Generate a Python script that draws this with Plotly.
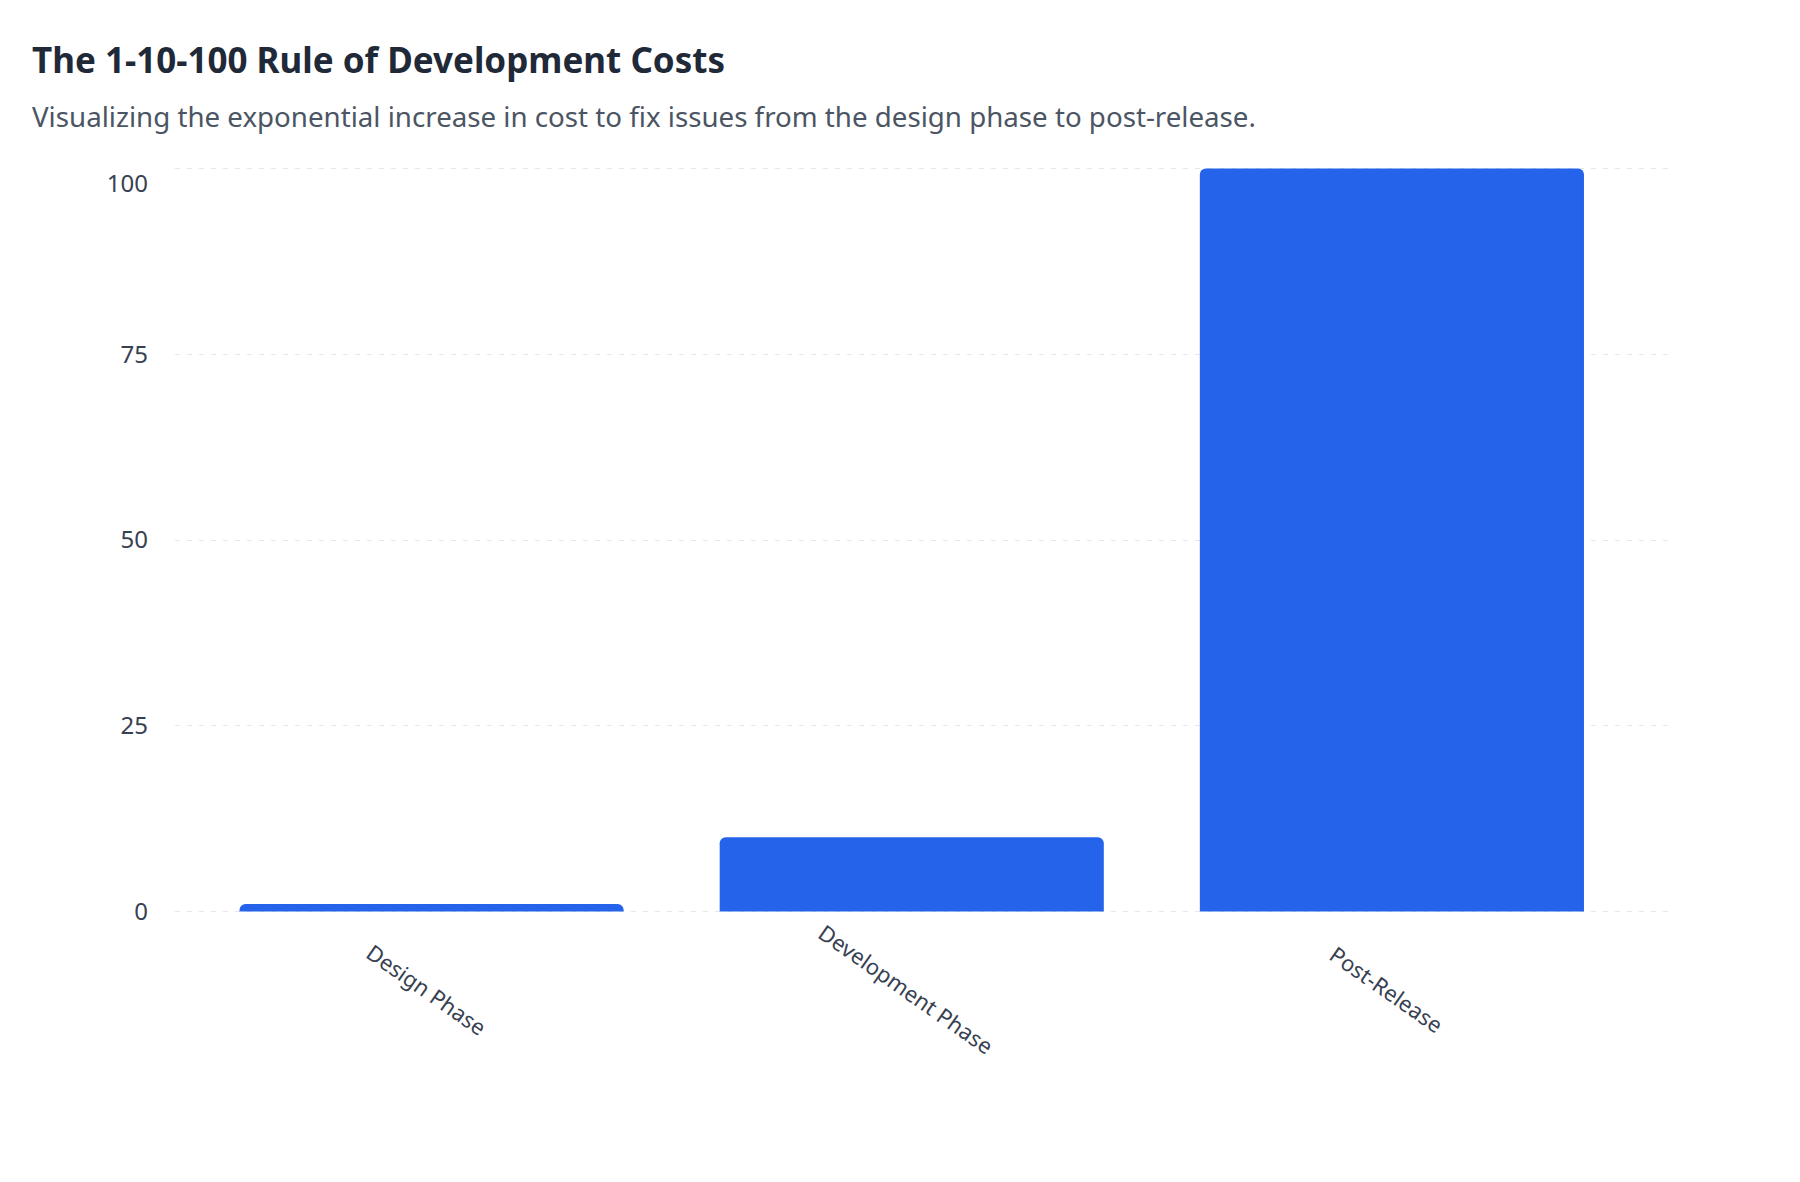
import plotly.graph_objects as go

categories = ["Design Phase", "Development Phase", "Post-Release"]
costs = [1, 10, 100]
y_ticks = [0, 25, 50, 75, 100]
y_tick_text = ["0", "25", "50", "75", "<br>100"]

title_text = "The 1-10-100 Rule of Development Costs"
subtitle_text = "Visualizing the exponential increase in cost to fix issues from the design phase to post-release."

FONT = "Noto Sans"
W, H = 1800, 1182
M_L, M_R, M_T, M_B = 175, 130, 167, 269
plot_w = W - M_L - M_R
plot_h = H - M_T - M_B

fig = go.Figure()
fig.add_trace(go.Bar(
    x=categories,
    y=costs,
    width=0.8,
    marker=dict(color="#2563EB", cornerradius=6, line=dict(width=0)),
    hoverinfo="x+y",
))

# Rotated category labels centered under each bar
for c in categories:
    fig.add_annotation(
        x=c, xref="x",
        y=-76 / plot_h, yref="paper",
        text=c, showarrow=False, textangle=35,
        xanchor="center", yanchor="middle", xshift=-5,
        font=dict(family=FONT, size=22, color="#374151"),
    )

fig.add_annotation(
    x=(29.5 - M_L) / plot_w, xref="paper", xanchor="left",
    y=1 + (M_T - 116) / plot_h, yref="paper", yanchor="middle",
    text=subtitle_text, showarrow=False,
    font=dict(family=FONT, size=27.7, color="#4B5563"),
)

fig.update_layout(
    width=W, height=H,
    margin=dict(l=M_L, r=M_R, t=M_T, b=M_B),
    paper_bgcolor="white", plot_bgcolor="white",
    showlegend=False,
    bargap=0.2,
    font=dict(family=FONT, color="#374151"),
    title=dict(
        text=f"<b>{title_text}</b>",
        x=32 / W, xanchor="left", xref="container",
        y=1 - 61 / H, yanchor="middle", yref="container",
        font=dict(family=FONT, size=35, color="#1F2937"),
    ),
    xaxis=dict(
        range=[-0.5 - 16.5 / 480, 2.5 + 38 / 480],
        showticklabels=False, showgrid=False, zeroline=False,
        showline=False, ticks="",
        fixedrange=True,
    ),
    yaxis=dict(
        range=[-0.2, 100.2],
        tickvals=y_ticks,
        ticktext=y_tick_text,
        tickfont=dict(family=FONT, size=24, color="#374151"),
        showgrid=True, gridcolor="#E5E7EB", griddash="5px,7px", gridwidth=1,
        zeroline=False, showline=False, ticks="",
        ticklabelstandoff=26,
        fixedrange=True,
    ),
)

fig.write_html("out.html")
